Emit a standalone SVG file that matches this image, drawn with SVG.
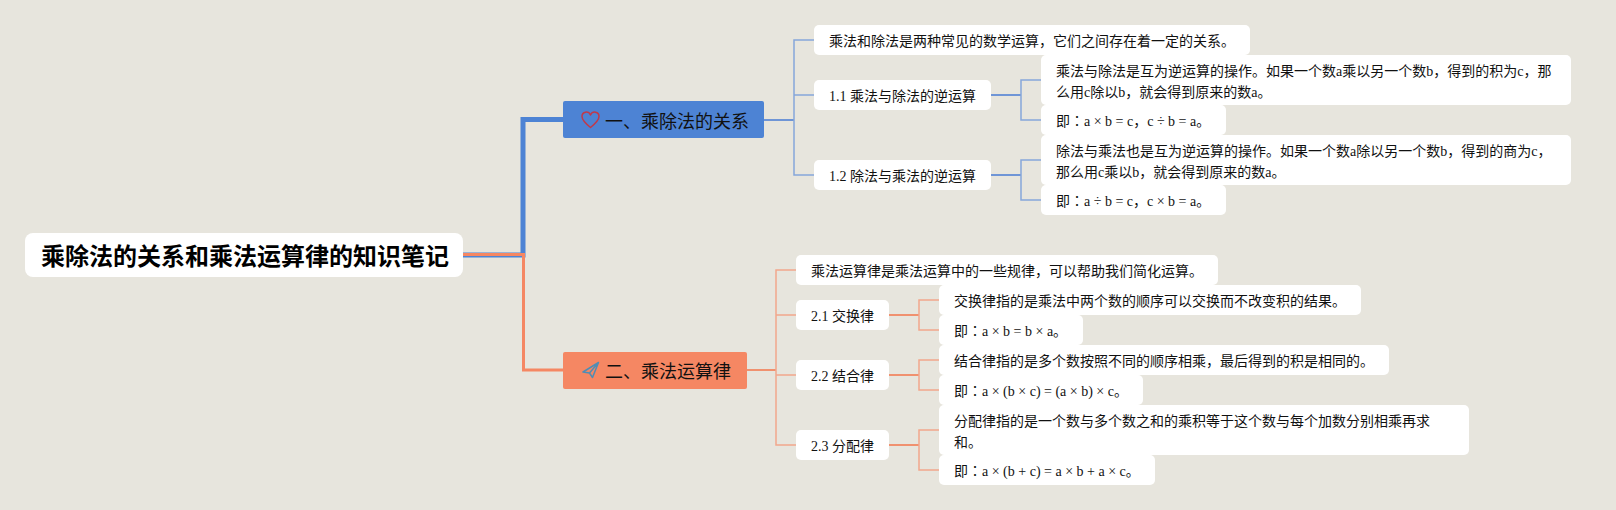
<svg xmlns="http://www.w3.org/2000/svg" width="1616" height="510" viewBox="0 0 1616 510">
<style>
text{font-family:"Liberation Serif","Noto Sans CJK SC",serif;font-size:14px;fill:#111}
.n{fill:#fff}
.c{fill:none;stroke-linejoin:miter}
.b{stroke:#86a6da;stroke-width:1.5}
.bt{stroke:#6f95d6;stroke-width:2}
.o{stroke:#f2a78c;stroke-width:1.5}
.ot{stroke:#f0916f;stroke-width:2}
.h{font-size:18px}
.r{font-size:24px;font-weight:700;fill:#000}
.k{font-family:"Noto Sans CJK TC",sans-serif}
</style>
<rect width="1616" height="510" fill="#e7e5dd"/>
<g id="connectors">
<path class="c" stroke="#4d83d4" stroke-width="5" d="M463 255H523V119.500H563"/>
<path class="c" stroke="#f58763" stroke-width="3" d="M463 254.500H523.500V370H563"/>
<path class="c bt" d="M764 120H794"/>
<path class="c b" d="M814 40H794V175H814M794 95H814"/>
<path class="c bt" d="M991 95H1021M991 175H1021"/>
<path class="c b" d="M1041 80H1021V120H1041M1041 160H1021V200H1041"/>
<path class="c ot" d="M746 370H776"/>
<path class="c o" d="M796 270H776V445H796M776 315H796M776 375H796"/>
<path class="c ot" d="M889 315H919M889 375H919M889 445H919"/>
<path class="c o" d="M939 300H919V330H939M939 360H919V390H939M939 430H919V470H939"/>
</g>
<g id="root"><rect class="n" x="25" y="233" width="438" height="44" rx="8"/><text class="r" x="41" y="265">乘除法的关系和乘法运算律的知识笔记</text></g>
<g id="n1"><rect x="563" y="101" width="201" height="37" rx="2" fill="#4d83d4"/>
<path d="M590.500 127.500C585 123 582 119.500 582 116.500C582 111.500 588.500 110.500 590.500 115C592.500 110.500 599 111.500 599 116.500C599 119.500 596 123 590.500 127.500Z" fill="none" stroke="#c0394a" stroke-width="1.500" stroke-linejoin="round"/>
<text class="h" x="605" y="128">一、乘除法的关系</text></g>
<g id="n2"><rect x="563" y="352" width="184" height="37" rx="2" fill="#f58763"/>
<path d="M598.500 362.500L583 372L589.500 373L592.500 377.500L598.500 362.500ZM598.500 362.500L589.500 373" fill="none" stroke="#4f8db5" stroke-width="1.500" stroke-linejoin="round"/>
<text class="h" x="605" y="378">二、乘法运算律</text></g>
<g id="n1-0"><rect class="n" x="814" y="25" width="436" height="30" rx="5"/><text x="829" y="46">乘法和除法是两种常见的数学运算，它们之间存在着一定的关系。</text></g>
<g id="n1-1"><rect class="n" x="814" y="80" width="177" height="30" rx="5"/><text x="829" y="101">1.1 乘法与除法的逆运算</text></g>
<g id="n1-1-a"><rect class="n" x="1041" y="55" width="530" height="50" rx="5"/><text x="1056" y="76">乘法与除法是互为逆运算的操作。如果一个数a乘以另一个数b，得到的积为c，那</text><text x="1056" y="97">么用c除以b，就会得到原来的数a。</text></g>
<g id="n1-1-b"><rect class="n" x="1041" y="105" width="185" height="30" rx="5"/><text x="1056" y="126">即<tspan class="k">：</tspan>a × b = c，c ÷ b = a。</text></g>
<g id="n1-2"><rect class="n" x="814" y="160" width="177" height="30" rx="5"/><text x="829" y="181">1.2 除法与乘法的逆运算</text></g>
<g id="n1-2-a"><rect class="n" x="1041" y="135" width="530" height="50" rx="5"/><text x="1056" y="156">除法与乘法也是互为逆运算的操作。如果一个数a除以另一个数b，得到的商为c，</text><text x="1056" y="177">那么用c乘以b，就会得到原来的数a。</text></g>
<g id="n1-2-b"><rect class="n" x="1041" y="185" width="185" height="30" rx="5"/><text x="1056" y="206">即<tspan class="k">：</tspan>a ÷ b = c，c × b = a。</text></g>
<g id="n2-0"><rect class="n" x="796" y="255" width="422" height="30" rx="5"/><text x="811" y="276">乘法运算律是乘法运算中的一些规律，可以帮助我们简化运算。</text></g>
<g id="n2-1"><rect class="n" x="796" y="300" width="93" height="30" rx="5"/><text x="811" y="321">2.1 交换律</text></g>
<g id="n2-1-a"><rect class="n" x="939" y="285" width="422" height="30" rx="5"/><text x="954" y="306">交换律指的是乘法中两个数的顺序可以交换而不改变积的结果。</text></g>
<g id="n2-1-b"><rect class="n" x="939" y="315" width="144" height="30" rx="5"/><text x="954" y="336">即<tspan class="k">：</tspan>a × b = b × a。</text></g>
<g id="n2-2"><rect class="n" x="796" y="360" width="93" height="30" rx="5"/><text x="811" y="381">2.2 结合律</text></g>
<g id="n2-2-a"><rect class="n" x="939" y="345" width="450" height="30" rx="5"/><text x="954" y="366">结合律指的是多个数按照不同的顺序相乘，最后得到的积是相同的。</text></g>
<g id="n2-2-b"><rect class="n" x="939" y="375" width="204" height="30" rx="5"/><text x="954" y="396">即<tspan class="k">：</tspan>a × (b × c) = (a × b) × c。</text></g>
<g id="n2-3"><rect class="n" x="796" y="430" width="93" height="30" rx="5"/><text x="811" y="451">2.3 分配律</text></g>
<g id="n2-3-a"><rect class="n" x="939" y="405" width="530" height="50" rx="5"/><text x="954" y="426">分配律指的是一个数与多个数之和的乘积等于这个数与每个加数分别相乘再求</text><text x="954" y="447">和。</text></g>
<g id="n2-3-b"><rect class="n" x="939" y="455" width="216" height="30" rx="5"/><text x="954" y="476">即<tspan class="k">：</tspan>a × (b + c) = a × b + a × c。</text></g>
</svg>
